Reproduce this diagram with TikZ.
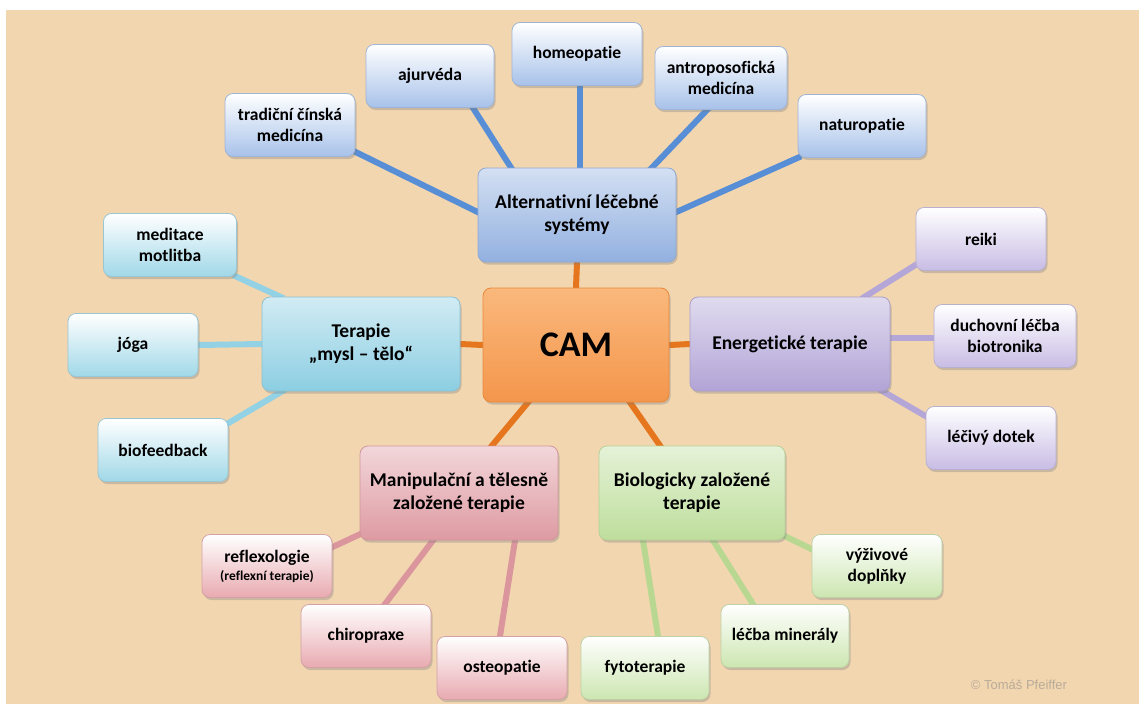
\documentclass[tikz,border=0pt]{standalone}
\usepackage{fontspec}
\setmainfont[Ligatures=NoCommon]{Carlito}
\newfontfamily\notefont{Liberation Sans}
\usetikzlibrary{shadows}

\definecolor{paper}{RGB}{242,214,176}
\definecolor{bluebox}{RGB}{168,194,234}
\definecolor{bluemain}{RGB}{146,176,224}
\definecolor{bluelink}{RGB}{88,142,214}
\definecolor{cyanbox}{RGB}{160,216,232}
\definecolor{cyanmain}{RGB}{140,206,226}
\definecolor{cyanlink}{RGB}{146,210,228}
\definecolor{violetbox}{RGB}{200,188,228}
\definecolor{violetmain}{RGB}{178,164,214}
\definecolor{violetlink}{RGB}{180,166,214}
\definecolor{rosebox}{RGB}{232,170,176}
\definecolor{rosemain}{RGB}{222,154,162}
\definecolor{roselink}{RGB}{218,150,156}
\definecolor{greenbox}{RGB}{204,230,176}
\definecolor{greenmain}{RGB}{190,222,156}
\definecolor{greenlink}{RGB}{184,216,146}
\definecolor{camtop}{RGB}{250,184,124}
\definecolor{cambot}{RGB}{244,150,76}
\definecolor{camlink}{RGB}{229,118,30}

\newcommand\leaffont{\fontsize{17.5}{21}\selectfont\bfseries}
\newcommand\groupfont{\fontsize{19.5}{23}\selectfont\bfseries}

\pgfdeclarelayer{paperlayer}
\pgfdeclarelayer{linklayer}
\pgfsetlayers{paperlayer,linklayer,main}

\tikzset{
  box/.style={rounded corners=8pt, align=center, inner sep=2pt, line width=0.8pt,
    drop shadow={opacity=0.35, shadow xshift=1.5pt, shadow yshift=-2.5pt}},
  leaf/.style={box, draw=#1!80!gray, top color=white, bottom color=#1,
    minimum width=130pt, minimum height=63pt, font=\leaffont},
  group/.style={box, draw=#1!85!gray, top color=#1!40!white, bottom color=#1,
    minimum width=198pt, minimum height=94pt, font=\groupfont},
  link/.style={line width=6pt, draw=#1, shorten <=-4pt, shorten >=-4pt},
}

\begin{document}
\begin{tikzpicture}[x=1pt,y=-1pt]
\useasboundingbox (0,0) rectangle (1139,704);
\begin{pgfonlayer}{paperlayer}
\fill[white] (0,0) rectangle (1139,704);
\fill[paper] (6,10) rectangle (1139,704);
\end{pgfonlayer}

\node[box, draw=camlink!80!paper, top color=camtop, bottom color=cambot,
  minimum width=186pt, minimum height=114pt,
  font=\fontsize{36}{40}\selectfont\bfseries] (cam) at (576,345) {CAM};

\node[group=bluemain] (alt) at (577,215) {Alternativní léčebné\\systémy};
\node[group=cyanmain] (mind) at (361,344) {Terapie\\„mysl – tělo“};
\node[group=violetmain, minimum width=200pt] (energy) at (790,344) {Energetické terapie};
\node[group=rosemain] (manip) at (459,493) {Manipulační a tělesně\\založené terapie};
\node[group=greenmain, minimum width=186pt] (bio) at (692,493) {Biologicky založené\\terapie};

\node[leaf=bluebox] (trad) at (290,125) {tradiční čínská\\medicína};
\node[leaf=bluebox, minimum width=128pt] (ajurv) at (430,76) {ajurvéda};
\node[leaf=bluebox] (homeo) at (577,54) {homeopatie};
\node[leaf=bluebox, minimum width=132pt] (antro) at (721,78) {antroposofická\\medicína};
\node[leaf=bluebox, minimum width=128pt] (natur) at (862,126) {naturopatie};

\node[leaf=cyanbox, minimum width=133pt] (medit) at (170,245) {meditace\\motlitba};
\node[leaf=cyanbox] (yoga) at (133,345) {jóga};
\node[leaf=cyanbox] (biofb) at (163,450) {biofeedback};

\node[leaf=violetbox] (reiki) at (981,239) {reiki};
\node[leaf=violetbox, minimum width=142pt] (spirit) at (1005,336) {duchovní léčba\\biotronika};
\node[leaf=violetbox] (touch) at (991,438) {léčivý dotek};

\node[leaf=rosebox] (reflex) at (267,566) {reflexologie\\[-3pt]\fontsize{13.5}{15}\selectfont(reflexní terapie)};
\node[leaf=rosebox] (chiro) at (366,636) {chiropraxe};
\node[leaf=rosebox] (osteo) at (502,668) {osteopatie};

\node[leaf=greenbox] (nutri) at (877,566) {výživové\\doplňky};
\node[leaf=greenbox, minimum width=128pt] (miner) at (785,636) {léčba minerály};
\node[leaf=greenbox, minimum width=128pt] (phyto) at (645,668) {fytoterapie};

\node[font=\notefont\fontsize{13}{15}\selectfont, text=gray!50!paper] (credit) at (1019,685) {© Tomáš Pfeiffer};

\begin{pgfonlayer}{linklayer}
\draw[link=bluelink] ([yshift=5pt]trad.south east) -- ([yshift=3pt]alt.west);
\draw[link=bluelink] ([xshift=43pt]ajurv.south) -- ([xshift=-66pt]alt.north);
\draw[link=bluelink] ([xshift=3pt]homeo.south) -- ([xshift=3pt]alt.north);
\draw[link=bluelink] ([xshift=-14pt]antro.south) -- ([xshift=75pt]alt.north);
\draw[link=bluelink] (natur.south west) -- ([yshift=3pt]alt.east);

\draw[link=camlink] (alt.south) -- (cam.north);
\draw[link=camlink] (mind.east) -- (cam.west);
\draw[link=camlink] (cam.east) -- (energy.west);
\draw[link=camlink] ([xshift=-48pt]cam.south) -- ([xshift=33pt]manip.north);
\draw[link=camlink] ([xshift=54pt]cam.south) -- ([xshift=-32pt]bio.north);

\draw[link=cyanlink] (medit.south east) -- ([xshift=-81pt]mind.north);
\draw[link=cyanlink] (yoga.east) -- (mind.west);
\draw[link=cyanlink] ([yshift=-5pt]biofb.north east) -- ([xshift=-79pt]mind.south);

\draw[link=violetlink] ([yshift=6pt]reiki.south west) -- ([xshift=75pt]energy.north);
\draw[link=violetlink] ([yshift=-2pt]spirit.west) -- ([yshift=6pt]energy.east);
\draw[link=violetlink] ([xshift=93pt]energy.south) -- ([yshift=-10pt]touch.north west);

\draw[link=roselink] ([yshift=-13pt]reflex.north east) -- ([yshift=6pt]manip.south west);
\draw[link=roselink] ([xshift=19pt]chiro.north) -- ([xshift=-26pt]manip.south);
\draw[link=roselink] ([xshift=-2pt]osteo.north) -- ([xshift=56pt]manip.south);

\draw[link=greenlink] ([yshift=4pt]bio.south east) -- ([yshift=-15pt]nutri.north west);
\draw[link=greenlink] ([xshift=21pt]bio.south) -- ([xshift=-32pt]miner.north);
\draw[link=greenlink] ([xshift=-49pt]bio.south) -- ([xshift=13pt]phyto.north);
\end{pgfonlayer}
\end{tikzpicture}
\end{document}
